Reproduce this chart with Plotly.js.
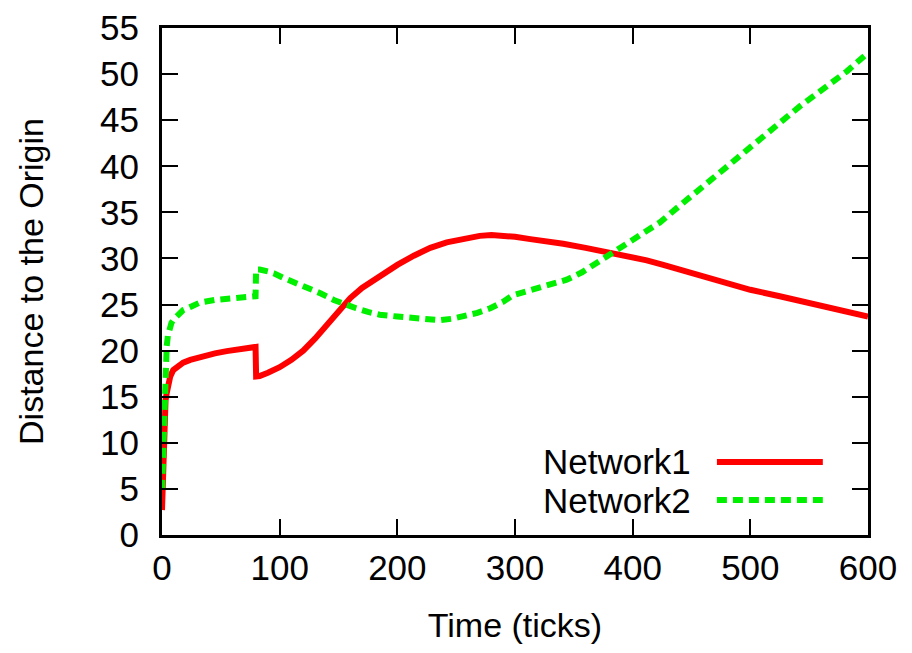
<!DOCTYPE html>
<html>
<head>
<meta charset="utf-8">
<script src="https://cdn.plot.ly/plotly-3.0.1.min.js"></script>
<style>html,body{margin:0;padding:0;background:#fff;}#chart{width:912px;height:653px;}</style>
</head>
<body>
<div id="chart"></div>
<script>
// Network1 (red, solid)
const net1X = [0, 0.5, 1, 1.5, 2, 3, 4, 5, 7, 9.6, 13, 18, 24, 35, 45, 55, 65, 79.5, 80, 83, 90, 100, 110, 120, 130, 140, 151, 160, 170, 185, 200, 214, 228, 242, 256, 270, 280, 290, 300, 313, 327, 341, 360, 378, 395, 412, 426, 440, 455, 470, 485, 500, 525, 550, 575, 600];
const net1Y = [2.7, 6, 9, 11.5, 13, 14.6, 15.4, 16.2, 17.2, 17.9, 18.3, 18.7, 19.0, 19.4, 19.7, 19.95, 20.15, 20.4, 17.2, 17.25, 17.6, 18.2, 19.0, 20.0, 21.3, 22.8, 24.5, 25.7, 26.8, 28.1, 29.3, 30.3, 31.15, 31.75, 32.15, 32.45, 32.55, 32.5, 32.35, 32.1, 31.9, 31.6, 31.15, 30.7, 30.25, 29.8, 29.3, 28.8, 28.3, 27.8, 27.2, 26.6, 25.9, 25.2, 24.4, 23.7];
// Network2 (green, dashed)
const net2X = [0, 1, 2, 2.5, 3, 4, 5, 6, 8, 10, 14, 18, 25, 32, 45, 60, 75, 79.5, 80, 83, 90, 95, 103, 113, 123, 135, 146, 155, 165, 175, 185, 200, 214, 225, 236, 246, 256, 268, 279, 290, 298, 310, 321, 333, 344, 357, 369, 384, 398, 412, 423, 436, 450, 475, 500, 521, 542, 562, 582, 600];
const net2Y = [4.9, 10, 14, 16.1, 18, 20.5, 21.6, 22.3, 23, 23.4, 24, 24.4, 24.8, 25.2, 25.5, 25.7, 25.85, 25.9, 28.8, 28.8, 28.6, 28.4, 27.9, 27.4, 26.9, 26.2, 25.5, 25.0, 24.6, 24.2, 23.9, 23.7, 23.5, 23.35, 23.3, 23.45, 23.7, 24.1, 24.6, 25.3, 26.0, 26.4, 26.8, 27.2, 27.7, 28.5, 29.5, 30.7, 31.8, 32.9, 33.9, 35.3, 36.8, 39.5, 42.1, 44.3, 46.5, 48.4, 50.3, 52.3];
const seriesNames = ["Network1", "Network2"];
const xTicks = [0, 100, 200, 300, 400, 500, 600];
const yTicks = [0, 5, 10, 15, 20, 25, 30, 35, 40, 45, 50, 55];

const FONT = "Liberation Sans, Arial, Helvetica, sans-serif";
const RED = "#ff0000", GREEN = "#00f000";

const traces = [
  {x: net1X, y: net1Y, name: seriesNames[0], mode: "lines", line: {color: RED, width: 6}, showlegend: false},
  {x: net2X, y: net2Y, name: seriesNames[1], mode: "lines", line: {color: GREEN, width: 6, dash: "10px,6px"}, showlegend: false}
];

const axisCommon = {
  showgrid: false, zeroline: false, showline: true, linecolor: "#000", linewidth: 3,
  mirror: "ticks", ticks: "inside", ticklen: 16, tickwidth: 2, tickcolor: "#000",
  tickfont: {family: FONT, size: 35, color: "#000"}
};

const layout = {
  width: 912, height: 653,
  margin: {l: 162, r: 44, t: 28, b: 118},
  paper_bgcolor: "#fff", plot_bgcolor: "#fff",
  font: {family: FONT, size: 35, color: "#000"},
  xaxis: Object.assign({}, axisCommon, {
    range: [0, 600], tickvals: xTicks, ticktext: xTicks.map(String),
    title: {text: "Time (ticks)", font: {family: FONT, size: 34, color: "#000"}, standoff: 28}
  }),
  yaxis: Object.assign({}, axisCommon, {
    range: [0, 55], tickvals: yTicks, ticktext: yTicks.map(String), ticklabelstandoff: 13,
    title: {text: "Distance to the Origin", font: {family: FONT, size: 34, color: "#000"}, standoff: 47}
  }),
  shapes: [
    {type: "line", xref: "paper", yref: "paper", x0: 0.786, x1: 0.936, y0: 0.144, y1: 0.144, line: {color: RED, width: 6}},
    {type: "line", xref: "paper", yref: "paper", x0: 0.786, x1: 0.936, y0: 0.069, y1: 0.069, line: {color: GREEN, width: 6, dash: "10px,6px"}}
  ],
  annotations: [
    {text: seriesNames[0], xref: "paper", yref: "paper", x: 0.752, y: 0.144, xanchor: "right", yanchor: "middle", showarrow: false, font: {family: FONT, size: 35, color: "#000"}},
    {text: seriesNames[1], xref: "paper", yref: "paper", x: 0.752, y: 0.069, xanchor: "right", yanchor: "middle", showarrow: false, font: {family: FONT, size: 35, color: "#000"}}
  ]
};

Plotly.newPlot("chart", traces, layout, {displayModeBar: false, staticPlot: true});
</script>
</body>
</html>
